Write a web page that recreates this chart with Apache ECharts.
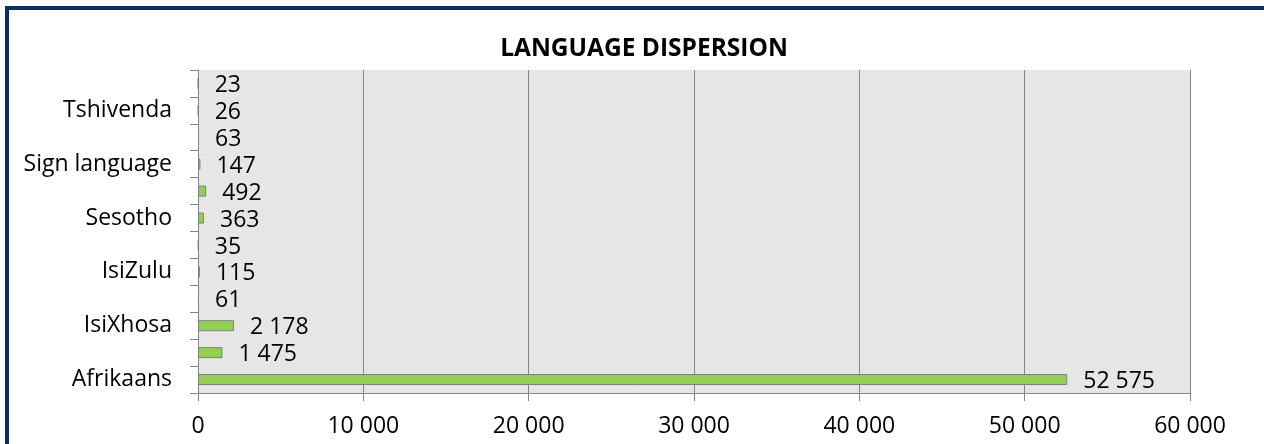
<!DOCTYPE html>
<html>
<head>
<meta charset="utf-8">
<script src="https://cdn.jsdelivr.net/npm/echarts@6/dist/echarts.min.js"></script>
<style>
html,body{margin:0;padding:0;background:#fff;overflow:hidden;}
#frame{position:absolute;left:5px;top:6px;width:1400px;height:600px;border:4px solid #0E2A68;box-sizing:border-box;}
#chart{position:absolute;left:0;top:0;width:1264px;height:444px;}
</style>
</head>
<body>
<div id="frame"></div>
<div id="chart"></div>
<script>
const titleText = 'LANGUAGE DISPERSION';
const categories = ['Afrikaans','English','IsiXhosa','IsiNdebele','IsiZulu','Sepedi','Sesotho','Setswana','Sign language','SiSwati','Tshivenda','Xitsonga'];
const values = [52575,1475,2178,61,115,35,363,492,147,63,26,23];
const axisMin = 0;
const axisMax = 60000;
const axisStep = 10000;

function fmt(v){
  return String(v).replace(/\B(?=(\d{3})+(?!\d))/g,' ');
}
const FONT = '"Open Sans", "Noto Sans", sans-serif';
const chart = echarts.init(document.getElementById('chart'), null, {renderer:'canvas'});
chart.setOption({
  backgroundColor: 'transparent',
  animation: false,
  title: {
    text: titleText,
    left: 639,
    top: 32,
    textAlign: 'center',
    textStyle: {fontFamily: FONT, fontSize: 24.5, fontWeight: 'bold', color: '#000'}
  },
  grid: {
    left: 198, right: 74, top: 70, bottom: 51,
    show: true, backgroundColor: '#E6E6E6', borderWidth: 0,
    containLabel: false
  },
  xAxis: {
    type: 'value',
    min: axisMin, max: axisMax, interval: axisStep,
    axisLine: {show: true, lineStyle: {color: '#868686', width: 1}},
    axisTick: {show: true, length: 8, lineStyle: {color: '#868686'}},
    splitLine: {show: true, lineStyle: {color: '#868686', width: 1}},
    axisLabel: {fontFamily: FONT, fontSize: 23, color: '#000', margin: 22, formatter: fmt}
  },
  yAxis: {
    type: 'category',
    data: categories,
    axisLine: {show: true, lineStyle: {color: '#868686', width: 1}},
    axisTick: {show: true, length: 8, interval: 0, lineStyle: {color: '#868686'}},
    axisLabel: {interval: 1, fontFamily: FONT, fontSize: 23, color: '#000', margin: 26, padding: [4, 0, 0, 0]}
  },
  series: [{
    type: 'bar',
    data: values,
    barWidth: 11,
    itemStyle: {color: '#92D050', borderColor: '#7F7F7F', borderWidth: 1},
    label: {
      show: true, position: 'right', distance: 16, offset: [0, 2],
      fontFamily: FONT, fontSize: 23, color: '#000',
      formatter: p => fmt(p.value)
    }
  }]
});
</script>
</body>
</html>
